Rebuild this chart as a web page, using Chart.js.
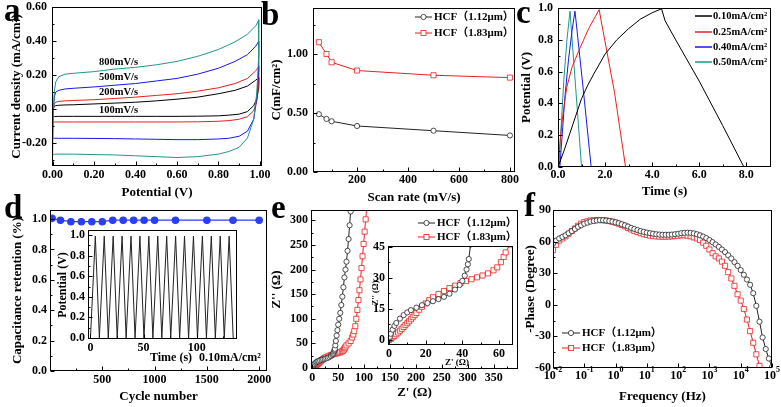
<!DOCTYPE html>
<html>
<head>
<meta charset="utf-8">
<title>HCF electrodes</title>
<script src="https://cdn.jsdelivr.net/npm/chart.js"></script>
<style>
  html, body { margin: 0; padding: 0; background: #fff; }
  #wrap { position: relative; width: 781px; height: 407px; overflow: hidden; background: #fff; }
  #wrap canvas { position: absolute; left: 0; top: 0; }
</style>
</head>
<body>
<div id="wrap"></div>
<script>
// (a) CV loops: potential on the forward and the backward sweep
const cvUp = [0, 0.003, 0.008, 0.015, 0.03, 0.06, 0.1, 0.2, 0.3, 0.4, 0.5, 0.6, 0.7, 0.8, 0.88, 0.94, 0.98, 0.995];
const cvDown = [0.995, 0.992, 0.985, 0.97, 0.94, 0.9, 0.85, 0.8, 0.7, 0.6, 0.5, 0.4, 0.3, 0.2, 0.1, 0.03, 0.01, 0];
const cv800Up = [-0.27, -0.05, 0.10, 0.16, 0.19, 0.205, 0.21, 0.22, 0.235, 0.245, 0.26, 0.28, 0.31, 0.35, 0.395, 0.44, 0.49, 0.525];
const cv800Down = [0.525, 0.30, 0.10, -0.06, -0.17, -0.225, -0.25, -0.265, -0.28, -0.285, -0.28, -0.275, -0.27, -0.268, -0.265, -0.265, -0.266, -0.27];
const cv500Up = [-0.17, -0.02, 0.07, 0.10, 0.11, 0.118, 0.122, 0.13, 0.14, 0.15, 0.165, 0.18, 0.205, 0.24, 0.28, 0.32, 0.37, 0.40];
const cv500Down = [0.40, 0.22, 0.06, -0.06, -0.13, -0.16, -0.172, -0.176, -0.18, -0.18, -0.178, -0.176, -0.174, -0.173, -0.172, -0.172, -0.172, -0.17];
const cv200Up = [-0.075, 0.0, 0.03, 0.04, 0.045, 0.048, 0.05, 0.055, 0.062, 0.07, 0.08, 0.09, 0.105, 0.125, 0.15, 0.18, 0.225, 0.25];
const cv200Down = [0.25, 0.14, 0.05, -0.01, -0.045, -0.06, -0.068, -0.072, -0.075, -0.076, -0.076, -0.076, -0.076, -0.076, -0.076, -0.076, -0.076, -0.075];
const cv100Up = [-0.045, 0.0, 0.015, 0.02, 0.022, 0.024, 0.025, 0.03, 0.035, 0.04, 0.048, 0.058, 0.07, 0.09, 0.11, 0.135, 0.17, 0.185];
const cv100Down = [0.185, 0.12, 0.06, 0.02, -0.015, -0.03, -0.036, -0.04, -0.042, -0.043, -0.043, -0.043, -0.043, -0.043, -0.043, -0.043, -0.044, -0.045];

// (b) capacitance vs scan rate
const scanRate = [50, 80, 100, 200, 500, 800];
const cap112 = [0.49, 0.45, 0.43, 0.39, 0.35, 0.31];
const cap183 = [1.10, 1.00, 0.93, 0.86, 0.82, 0.80];

// (c) charge / discharge curves
const gcdT010 = [0, 0.25, 0.5, 0.75, 1.0, 1.25, 1.5, 2.0, 2.5, 3.0, 3.5, 4.0, 4.4, 4.55, 5.0, 6.0, 7.0, 7.9];
const gcdV010 = [0, 0.1, 0.21, 0.32, 0.43, 0.51, 0.58, 0.71, 0.8, 0.87, 0.93, 0.97, 0.995, 0.92, 0.8, 0.54, 0.26, 0];
const gcdT025 = [0, 0.1, 0.2, 0.37, 0.6, 0.94, 1.3, 1.75, 1.82, 2.4, 2.87];
const gcdV025 = [0, 0.18, 0.32, 0.5, 0.63, 0.75, 0.87, 0.99, 0.93, 0.47, 0];
const gcdT040 = [0.08, 0.2, 0.3, 0.45, 0.6, 0.72, 0.78, 1.1, 1.41];
const gcdV040 = [0, 0.25, 0.45, 0.68, 0.86, 0.98, 0.9, 0.45, 0];
const gcdT050 = [0.04, 0.15, 0.25, 0.38, 0.51, 0.56, 1.0];
const gcdV050 = [0, 0.3, 0.55, 0.8, 0.98, 0.88, 0];

// (d) cycling retention + inset potential trace
const cycles = [20, 100, 200, 300, 400, 500, 600, 700, 800, 900, 1000, 1200, 1500, 1750, 2000];
const retention = [1.005, 0.993, 0.983, 0.983, 0.983, 0.983, 0.993, 0.993, 0.993, 0.993, 0.993, 0.993, 0.993, 0.993, 0.993];
const cycT = [0, 4.6, 8.4, 13.0, 16.8, 21.4, 25.2, 29.8, 33.6, 38.2, 42.0, 46.6, 50.4, 55.0, 58.8, 63.4, 67.2, 71.8, 75.6, 80.2, 84.0, 88.6, 92.4, 97.0, 100.8, 105.4, 109.2, 113.8, 117.6, 122.2, 126.0, 130.6, 134.4];
const cycV = [0, 0.99, 0, 0.99, 0, 0.99, 0, 0.99, 0, 0.99, 0, 0.99, 0, 0.99, 0, 0.99, 0, 0.99, 0, 0.99, 0, 0.99, 0, 0.99, 0, 0.99, 0, 0.99, 0, 0.99, 0, 0.99, 0];

// (e) Nyquist
const zRe112 = [0, 0.5, 1, 2, 3, 4, 6, 8, 10, 12, 15, 18, 21, 24, 27, 30, 33, 36, 38.5, 40, 41.3, 42.3, 43, 43.5, 44.5, 45.5, 47, 48.5, 50, 52, 54, 56, 58, 60, 62, 64, 66, 68, 70, 72, 74];
const zIm112 = [0, 1.5, 3, 5, 6.8, 8.2, 10.3, 12, 13.3, 14.4, 15.6, 16.8, 17.8, 18.7, 19.7, 20.8, 22.3, 24.3, 26.5, 28.5, 31, 34, 36.5, 39, 46, 55, 66, 77, 88, 100, 112, 128, 145, 164, 184, 200, 216, 238, 262, 290, 318];
const zRe183 = [0, 1, 2, 3, 4, 5, 6, 7, 8, 9, 10, 11, 12, 13, 14, 15, 16.5, 18, 20, 22, 24, 27, 30, 33, 36, 39, 42, 45, 48, 51, 54, 57, 59, 61, 62.5, 63.6, 66, 70, 74, 77, 79, 81, 83, 85, 87, 89, 91, 93, 95, 97, 99, 101, 103, 105];
const zIm183 = [0, 0.5, 1.3, 2, 2.8, 3.6, 4.5, 5.4, 6.3, 7.2, 8.1, 9, 10, 11, 12, 13, 14.6, 16, 17.6, 19.2, 20.6, 22.2, 23.6, 25, 26.2, 27.4, 28.4, 29.3, 30.2, 31.1, 32.1, 33.6, 35, 37.5, 40, 42.2, 46, 50, 55, 62, 68, 75, 85, 100, 118, 138, 158, 180, 203, 227, 252, 277, 302, 325];

// (f) Bode phase
const freq = [0.01, 0.0126, 0.0158, 0.02, 0.0251, 0.0316, 0.0398, 0.0501, 0.0631, 0.0794,
  0.1, 0.126, 0.158, 0.2, 0.251, 0.316, 0.398, 0.501, 0.631, 0.794,
  1, 1.26, 1.58, 2, 2.51, 3.16, 3.98, 5.01, 6.31, 7.94,
  10, 12.6, 15.8, 20, 25.1, 31.6, 39.8, 50.1, 63.1, 79.4,
  100, 126, 158, 200, 251, 316, 398, 501, 631, 794,
  1000, 1260, 1580, 2000, 2510, 3160, 3980, 5010, 6310, 7940,
  10000, 12600, 15800, 20000, 25100, 31600, 39800, 50100, 63100, 79400, 100000];
const phase112 = [58, 61, 63, 64.5, 66, 68, 70, 72, 74, 75.5,
  77, 78, 79, 79.5, 80, 80.3, 80.3, 80, 79.5, 79,
  78.3, 77.5, 76.5, 75.5, 74.3, 73, 72, 71, 70, 69.3,
  68.6, 68, 67.5, 67, 66.7, 66.5, 66.5, 66.5, 66.7, 67,
  67.5, 68, 68.3, 68.5, 68.3, 67.8, 67, 66, 64.8, 63.3,
  61.5, 59.5, 57.3, 55, 52.5, 50, 47, 44, 40.5, 37,
  33, 28.5, 24, 19, 11, -1, -16, -31, -42, -51, -59];
const phase183 = [52, 57, 61, 63, 65, 67.5, 70, 72.5, 75, 77,
  78.5, 79.3, 80, 80.3, 80.5, 80.5, 80.3, 80, 79.5, 78.8,
  78, 77, 75.8, 74.5, 73, 71.5, 70, 69, 68, 67,
  66.3, 65.7, 65.2, 65, 64.8, 64.7, 64.7, 64.8, 65, 65.3,
  65.6, 66, 66, 65.7, 65, 64, 63, 61.5, 59, 56,
  52.5, 49, 46, 44, 41, 37, 31, 25, 18, 10,
  4, -4, -14, -25, -36, -47, -58];
const decades = [0.01, 0.1, 1, 10, 100, 1000, 10000, 100000];

const W = 781, H = 407;
const FONT = "'Liberation Serif', 'Times New Roman', 'Noto Sans CJK SC', serif";
const tickFont = { family: FONT, size: 12, weight: 'bold' };
const titleFont = { family: FONT, size: 13, weight: 'bold' };
const TL = 13 * 1.2;
const RED = '#ee1d1d', BLUE = '#1717ee', TEAL = '#1f968a', DBLUE = '#2b3ff2';

const pts = (xs, ys) => ys.map((y, i) => ({ x: xs[i], y: y }));

const lineDs = (label, data, color) => ({
  label, data, showLine: true, borderColor: color, borderWidth: 1, pointRadius: 0, tension: 0
});
const markDs = (label, data, color, style) => ({
  label, data, showLine: true, borderColor: color, borderWidth: 1, tension: 0,
  pointStyle: style, pointRadius: style === 'rect' ? 3.6 : 2.6,
  pointBackgroundColor: '#fff', pointBorderColor: color, pointBorderWidth: 0.8
});

// tick marks: majors at the ticks, minors half way between
function marks(s) {
  const vals = s.ticks.map(t => t.value);
  const out = vals.map(v => [v, 4]);
  if (s.type === 'logarithmic' || vals.length < 2) return out;
  const st = vals[1] - vals[0];
  for (let i = 0; i + 1 < vals.length; i++) out.push([(vals[i] + vals[i + 1]) / 2, 2]);
  if (vals[0] - st / 2 > s.min) out.push([vals[0] - st / 2, 2]);
  if (vals[vals.length - 1] + st / 2 < s.max) out.push([vals[vals.length - 1] + st / 2, 2]);
  return out;
}

function text(ctx, t, x, y, size, align, rot) {
  ctx.save();
  ctx.font = 'bold ' + size + 'px ' + FONT;
  ctx.fillStyle = '#000';
  ctx.textAlign = align || 'center';
  ctx.textBaseline = 'middle';
  ctx.translate(x, y);
  if (rot) ctx.rotate(rot);
  ctx.fillText(t, 0, 0);
  ctx.restore();
}

const framePlugin = {
  id: 'frame',
  beforeDatasetsDraw(chart) {
    const o = chart.config.options.plugins.frame || {};
    if (!o.fill) return;
    const a = chart.chartArea, ctx = chart.ctx;
    ctx.save();
    ctx.fillStyle = '#fff';
    ctx.fillRect(a.left, a.top, a.right - a.left, a.bottom - a.top);
    ctx.restore();
  },
  afterDraw(chart) {
    const o = chart.config.options.plugins.frame || {};
    const { ctx, chartArea: a } = chart;
    const xs = chart.scales.x, ys = chart.scales.y;
    ctx.save();
    ctx.strokeStyle = '#000';
    ctx.lineWidth = 1;
    const l = Math.round(a.left) + 0.5, t = Math.round(a.top) + 0.5;
    const r = Math.round(a.right) - 0.5, b = Math.round(a.bottom) - 0.5;
    ctx.strokeRect(l, t, r - l, b - t);
    ctx.beginPath();
    marks(xs).forEach(([v, len]) => {
      const p = Math.round(xs.getPixelForValue(v)) + 0.5;
      ctx.moveTo(p, b); ctx.lineTo(p, b - len);
    });
    marks(ys).forEach(([v, len]) => {
      const p = Math.round(ys.getPixelForValue(v)) + 0.5;
      ctx.moveTo(l, p); ctx.lineTo(l + len, p);
    });
    ctx.stroke();

    // power-of-ten labels for the log axis
    if (o.supY) {
      xs.ticks.forEach(tk => {
        const e = String(Math.round(Math.log10(tk.value)));
        const p = xs.getPixelForValue(tk.value);
        ctx.font = 'bold 12px ' + FONT;
        const w1 = ctx.measureText('10').width;
        ctx.font = 'bold 8px ' + FONT;
        const w2 = ctx.measureText(e).width;
        const x0 = p - (w1 + w2) / 2;
        text(ctx, '10', x0, o.supY, 12, 'left');
        text(ctx, e, x0 + w1, o.supY - 6, 8, 'left');
      });
    }

    if (o.legend) {
      const lg = o.legend;
      chart.data.datasets.forEach((ds, i) => {
        const y = lg.y[i];
        const cx = (lg.x1 + lg.x2) / 2;
        ctx.strokeStyle = ds.borderColor;
        ctx.lineWidth = lg.lw || 1;
        ctx.beginPath(); ctx.moveTo(lg.x1, y); ctx.lineTo(lg.x2, y); ctx.stroke();
        ctx.lineWidth = 0.8;
        ctx.fillStyle = '#fff';
        if (ds.pointRadius > 0 && ds.pointStyle === 'circle') {
          ctx.beginPath(); ctx.arc(cx, y, 2.6, 0, Math.PI * 2); ctx.fill(); ctx.stroke();
        } else if (ds.pointRadius > 0 && ds.pointStyle === 'rect') {
          ctx.fillRect(cx - 2.5, y - 2.5, 5, 5); ctx.strokeRect(cx - 2.5, y - 2.5, 5, 5);
        }
        text(ctx, ds.label, lg.tx, y, lg.size, 'left');
      });
    }

    (o.texts || []).forEach(tx => text(ctx, tx.t, tx.x, tx.y, tx.s, tx.a, tx.r));

    if (o.letter) {
      ctx.font = 'bold 33px ' + FONT;
      ctx.fillStyle = '#000';
      ctx.textAlign = 'left';
      ctx.textBaseline = 'alphabetic';
      ctx.fillText(o.letter[0], o.letter[1], o.letter[2]);
    }
    ctx.restore();
  }
};
Chart.register(framePlugin);

function axis(range, ticks, digits, pad, title) {
  return {
    type: 'linear', min: range[0], max: range[1],
    grid: { display: false, drawTicks: false },
    border: { display: false },
    afterBuildTicks: s => { s.ticks = ticks.map(v => ({ value: v })); },
    ticks: {
      padding: pad, font: tickFont, color: '#000', autoSkip: false, maxRotation: 0,
      callback: v => digits < 0 ? String(v) : Number(v).toFixed(digits)
    },
    title: title ? { display: true, text: title, font: titleFont, color: '#000', padding: 0 } : { display: false }
  };
}

function panel(p) {
  const yLeft = p.ytx != null ? p.ytx - TL / 2 : p.L - 40;
  const xBottom = p.xty != null ? p.xty + TL / 2 : p.B + 26;
  const yw = p.L - yLeft, xh = xBottom - p.B;
  const x = axis(p.x, p.xt, p.xd, p.xpad, p.xtitle);
  const y = axis(p.y, p.yt, p.yd, p.ypad, p.ytitle);
  x.afterFit = s => { s.height = xh; s.paddingLeft = 0; s.paddingRight = 0; };
  y.afterFit = s => { s.width = yw; s.paddingTop = 0; s.paddingBottom = 0; };
  if (p.log) { x.type = 'logarithmic'; x.ticks = { display: false }; }
  const c = document.createElement('canvas');
  c.width = W; c.height = H;
  document.getElementById('wrap').appendChild(c);
  return new Chart(c, {
    type: 'scatter',
    data: { datasets: p.datasets },
    options: {
      responsive: false, animation: false, events: [],
      layout: { padding: { left: yLeft, top: p.T, right: W - p.R, bottom: H - xBottom } },
      plugins: { legend: { display: false }, tooltip: { enabled: false }, frame: p.frame },
      scales: { x, y }
    }
  });
}

// (a)
panel({
  L: 52, T: 7, R: 262, B: 166, ytx: 17, xty: 193,
  x: [-0.003, 1.01], xt: [0, 0.2, 0.4, 0.6, 0.8, 1.0], xd: 2, xpad: 2, xtitle: 'Potential (V)',
  y: [-0.335, 0.6], yt: [-0.2, 0, 0.2, 0.4, 0.6], yd: 2, ypad: 5, ytitle: 'Current density (mA/cm²)',
  datasets: [
    lineDs('800mV/s', pts(cvUp.concat(cvDown), cv800Up.concat(cv800Down)), TEAL),
    lineDs('500mV/s', pts(cvUp.concat(cvDown), cv500Up.concat(cv500Down)), BLUE),
    lineDs('200mV/s', pts(cvUp.concat(cvDown), cv200Up.concat(cv200Down)), RED),
    lineDs('100mV/s', pts(cvUp.concat(cvDown), cv100Up.concat(cv100Down)), '#000')
  ],
  frame: {
    letter: ['a', 4, 21],
    texts: [
      { t: '800mV/s', x: 99, y: 62, s: 10.5, a: 'left' },
      { t: '500mV/s', x: 99, y: 77, s: 10.5, a: 'left' },
      { t: '200mV/s', x: 99, y: 92, s: 10.5, a: 'left' },
      { t: '100mV/s', x: 99, y: 110, s: 10.5, a: 'left' }
    ]
  }
});

// (b)
panel({
  L: 313, T: 8, R: 515, B: 172, ytx: 277, xty: 198,
  x: [27, 820], xt: [200, 400, 600, 800], xd: -1, xpad: 1, xtitle: 'Scan rate (mV/s)',
  y: [0, 1.39], yt: [0, 0.5, 1.0], yd: 2, ypad: 5, ytitle: 'C(mF/cm²)',
  datasets: [
    markDs('HCF（1.12μm）', pts(scanRate, cap112), '#222', 'circle'),
    markDs('HCF（1.83μm）', pts(scanRate, cap183), RED, 'rect')
  ],
  frame: { letter: ['b', 261, 25], legend: { x1: 415, x2: 432, tx: 434, y: [17, 33], size: 11 } }
});

// (c)
panel({
  L: 558, T: 8, R: 771, B: 167, ytx: 527, xty: 192,
  x: [0, 9.05], xt: [0, 2, 4, 6, 8], xd: 1, xpad: 1, xtitle: 'Time (s)',
  y: [0, 1.0], yt: [0, 0.2, 0.4, 0.6, 0.8, 1.0], yd: 1, ypad: 5, ytitle: 'Potential (V)',
  datasets: [
    lineDs('0.10mA/cm²', pts(gcdT010, gcdV010), '#000'),
    lineDs('0.25mA/cm²', pts(gcdT025, gcdV025), RED),
    lineDs('0.40mA/cm²', pts(gcdT040, gcdV040), BLUE),
    lineDs('0.50mA/cm²', pts(gcdT050, gcdV050), TEAL)
  ],
  frame: { letter: ['c', 516, 23], legend: { x1: 695, x2: 712, tx: 713, y: [16, 32, 47, 62], size: 10.5, lw: 1.5 } }
});

// (d)
panel({
  L: 50, T: 210, R: 267, B: 371, ytx: 18, xty: 397,
  x: [0, 2075], xt: [500, 1000, 1500, 2000], xd: -1, xpad: 2, xtitle: 'Cycle number',
  y: [0, 1.06], yt: [0, 0.2, 0.4, 0.6, 0.8, 1.0], yd: 1, ypad: 3, ytitle: 'Capacitance retention (%)',
  datasets: [{
    label: 'retention', data: pts(cycles, retention), showLine: true, borderColor: DBLUE, borderWidth: 1.2,
    pointRadius: 3.2, pointBackgroundColor: DBLUE, pointBorderColor: DBLUE, tension: 0
  }],
  frame: { letter: ['d', 4, 218] }
});
panel({
  L: 88, T: 230, R: 237, B: 339,
  x: [-2.3, 138], xt: [0, 50, 100], xd: -1, xpad: 2,
  y: [-0.01, 1.05], yt: [0, 0.2, 0.4, 0.6, 0.8, 1.0], yd: 1, ypad: 3,
  datasets: [lineDs('0.10mA/cm²', pts(cycT, cycV), '#222')],
  frame: {
    fill: true,
    texts: [
      { t: 'Potential (V)', x: 63, y: 285, s: 12, r: -Math.PI / 2 },
      { t: 'Time (s)', x: 171, y: 358, s: 12 },
      { t: '0.10mA/cm²', x: 230, y: 358, s: 12 }
    ]
  }
});

// (e)
panel({
  L: 311, T: 210, R: 518, B: 369, ytx: 277, xty: 393,
  x: [-2.5, 397], xt: [0, 50, 100, 150, 200, 250, 300, 350], xd: -1, xpad: 2, xtitle: "Z' (Ω)",
  y: [-2, 321], yt: [0, 50, 100, 150, 200, 250, 300], yd: -1, ypad: 3, ytitle: "Z'' (Ω)",
  datasets: [
    markDs('HCF（1.12μm）', pts(zRe112, zIm112), '#222', 'circle'),
    markDs('HCF（1.83μm）', pts(zRe183, zIm183), RED, 'rect')
  ],
  frame: { letter: ['e', 271, 218], legend: { x1: 418, x2: 435, tx: 437, y: [223, 237], size: 11 } }
});
panel({
  L: 388, T: 246, R: 513, B: 345,
  x: [-0.5, 67.6], xt: [0, 20, 40, 60], xd: -1, xpad: 2,
  y: [-2.4, 45.3], yt: [0, 15, 30, 45], yd: -1, ypad: 3,
  datasets: [
    markDs('HCF（1.12μm）', pts(zRe112, zIm112), '#222', 'circle'),
    markDs('HCF（1.83μm）', pts(zRe183, zIm183), RED, 'rect')
  ],
  frame: {
    fill: true,
    texts: [
      { t: "Z'' (Ω)", x: 376, y: 293, s: 8.5, r: -Math.PI / 2 },
      { t: "Z' (Ω)", x: 457, y: 363, s: 9 }
    ]
  }
});

// (f)
panel({
  L: 553, T: 210, R: 772, B: 368, ytx: 531, xty: 397, log: true,
  x: [0.01, 100000], xt: decades, xd: -1, xpad: 2, xtitle: 'Frequency (Hz)',
  y: [-60, 90], yt: [-60, -30, 0, 30, 60, 90], yd: -1, ypad: 2, ytitle: '-Phase (Degree)',
  datasets: [
    markDs('HCF（1.12μm）', pts(freq, phase112), '#222', 'circle'),
    markDs('HCF（1.83μm）', pts(freq, phase183), RED, 'rect')
  ],
  frame: { letter: ['f', 524, 216], supY: 376, legend: { x1: 562, x2: 580, tx: 582, y: [333, 348], size: 11 } }
});
</script>
</body>
</html>
